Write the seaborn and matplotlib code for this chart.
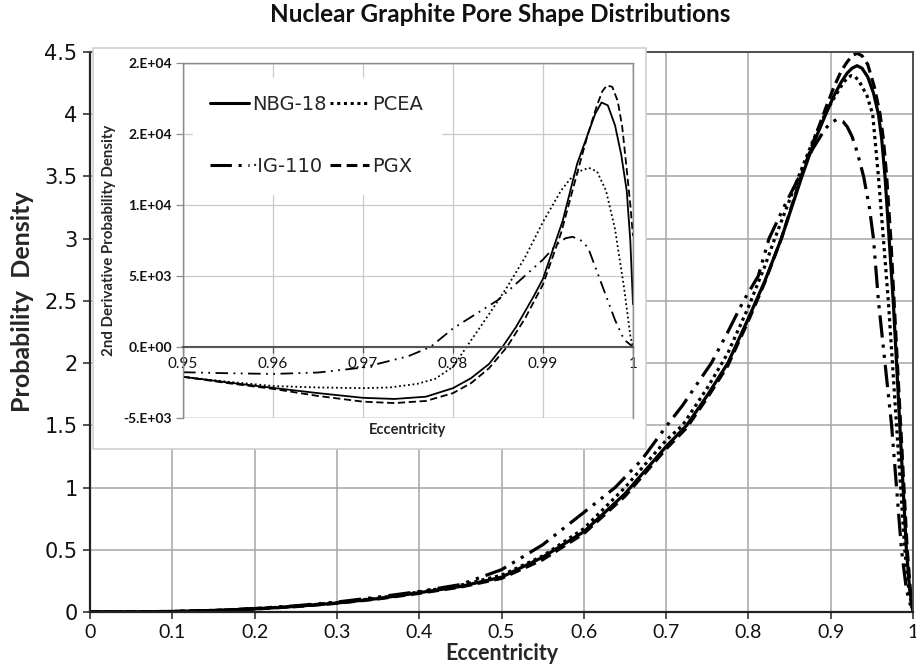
import matplotlib
matplotlib.use("Agg")
import matplotlib.pyplot as plt
from matplotlib.lines import Line2D
from matplotlib.patches import Rectangle
import seaborn as sns
import pandas as pd

TITLE = "Nuclear Graphite Pore Shape Distributions"
SERIES = ["NBG-18", "PCEA", "IG-110", "PGX"]

# ---- main chart: probability density vs eccentricity ----
nbg_x = [0, 0.1, 0.15, 0.2, 0.25, 0.3, 0.35, 0.4, 0.45, 0.5, 0.55, 0.6, 0.65, 0.7, 0.725, 0.75,
         0.775, 0.8, 0.82, 0.84, 0.865, 0.88, 0.894, 0.904, 0.913, 0.92, 0.926, 0.932, 0.938,
         0.945, 0.952, 0.958, 0.962, 0.966, 0.971, 0.976, 0.98, 0.984, 0.988, 0.992, 0.996, 1.0]
nbg_y = [0, 0.004, 0.012, 0.025, 0.045, 0.072, 0.108, 0.155, 0.205, 0.28, 0.44, 0.645, 0.95,
         1.33, 1.5, 1.74, 2.0, 2.36, 2.66, 3.0, 3.5, 3.78, 4.0, 4.15, 4.26, 4.33, 4.37, 4.39,
         4.37, 4.3, 4.17, 4.0, 3.8, 3.5, 3.0, 2.5, 2.0, 1.5, 1.0, 0.5, 0.18, 0.0]

pgx_x = [0, 0.1, 0.15, 0.2, 0.25, 0.3, 0.35, 0.4, 0.45, 0.5, 0.55, 0.6, 0.65, 0.7, 0.725, 0.75,
         0.775, 0.8, 0.82, 0.84, 0.865, 0.88, 0.894, 0.904, 0.913, 0.92, 0.926, 0.932, 0.938,
         0.945, 0.953, 0.96, 0.964, 0.968, 0.973, 0.977, 0.981, 0.985, 0.989, 0.993, 0.997, 1.0]
pgx_y = [0, 0.004, 0.012, 0.024, 0.043, 0.07, 0.105, 0.15, 0.2, 0.27, 0.42, 0.63, 0.93, 1.31,
         1.48, 1.72, 1.98, 2.34, 2.65, 3.0, 3.52, 3.8, 4.05, 4.22, 4.35, 4.42, 4.47, 4.49, 4.47,
         4.4, 4.22, 4.0, 3.8, 3.5, 3.0, 2.5, 2.0, 1.5, 1.0, 0.5, 0.16, 0.0]

pcea_x = [0, 0.1, 0.15, 0.2, 0.25, 0.3, 0.35, 0.4, 0.45, 0.5, 0.55, 0.6, 0.65, 0.7, 0.72, 0.75,
          0.775, 0.8, 0.82, 0.832, 0.861, 0.878, 0.893, 0.905, 0.915, 0.92, 0.925, 0.93, 0.935,
          0.944, 0.951, 0.958, 0.964, 0.97, 0.975, 0.98, 0.985, 0.99, 0.995, 1.0]
pcea_y = [0, 0.004, 0.012, 0.026, 0.047, 0.075, 0.112, 0.16, 0.215, 0.295, 0.45, 0.67, 1.0,
          1.38, 1.5, 1.8, 2.08, 2.45, 2.78, 3.0, 3.5, 3.78, 4.0, 4.14, 4.25, 4.29, 4.31, 4.3,
          4.26, 4.15, 4.0, 3.5, 3.0, 2.5, 2.0, 1.5, 1.0, 0.5, 0.17, 0.0]

ig_x = [0, 0.1, 0.15, 0.2, 0.25, 0.3, 0.35, 0.4, 0.45, 0.5, 0.55, 0.6, 0.638, 0.67, 0.7, 0.72,
        0.741, 0.755, 0.775, 0.794, 0.812, 0.825, 0.845, 0.862, 0.878, 0.893, 0.9, 0.908,
        0.915, 0.92, 0.926, 0.932, 0.94, 0.947, 0.952, 0.958, 0.966, 0.974, 0.98, 0.986,
        0.992, 0.999]
ig_y = [0, 0.004, 0.013, 0.028, 0.05, 0.08, 0.12, 0.165, 0.22, 0.34, 0.54, 0.8, 1.0, 1.22,
        1.49, 1.66, 1.865, 2.0, 2.25, 2.5, 2.7, 3.0, 3.28, 3.5, 3.72, 3.88, 3.93, 3.96, 3.94,
        3.9, 3.82, 3.7, 3.5, 3.25, 3.0, 2.5, 2.0, 1.5, 1.0, 0.5, 0.18, 0.0]

# ---- inset: 2nd derivative probability density ----
nbg_d2_x = [0.95, 0.955, 0.96, 0.965, 0.97, 0.9735, 0.977, 0.98, 0.982, 0.984, 0.9855, 0.987,
            0.989, 0.99, 0.9922, 0.9938, 0.995, 0.9958, 0.9965, 0.9972, 0.998, 0.9987,
            0.9993, 0.9997, 1.0]
nbg_d2_y = [-2100, -2500, -2880, -3250, -3580, -3660, -3500, -2900, -2200, -1200, 0, 1400,
            3600, 4800, 8900, 12900, 15000, 16400, 17200, 17000, 15600, 13500, 11000, 7500,
            3000]

pgx_d2_x = [0.95, 0.955, 0.96, 0.965, 0.97, 0.9735, 0.977, 0.98, 0.982, 0.984, 0.986, 0.988,
            0.99, 0.992, 0.994, 0.995, 0.996, 0.9966, 0.9971, 0.9977, 0.9983, 0.9988, 0.9993,
            0.9997, 1.0]
pgx_d2_y = [-2100, -2550, -2950, -3450, -3850, -3950, -3800, -3250, -2550, -1500, 0, 2000,
            4400, 8000, 12700, 15000, 17000, 18000, 18400, 18300, 17300, 15500, 12500, 10000,
            7800]

pcea_d2_x = [0.95, 0.955, 0.96, 0.965, 0.97, 0.973, 0.976, 0.978, 0.98, 0.9815, 0.984, 0.986,
             0.988, 0.99, 0.992, 0.993, 0.994, 0.9951, 0.996, 0.997, 0.998, 0.999, 0.9997, 1.0]
pcea_d2_y = [-2100, -2450, -2750, -2850, -2900, -2850, -2600, -2250, -1400, 0, 2300, 4200,
             6300, 8800, 11000, 11800, 12350, 12600, 12350, 11000, 8300, 4200, 800, 0]

ig_d2_x = [0.95, 0.955, 0.96, 0.965, 0.97, 0.975, 0.9775, 0.98, 0.985, 0.99, 0.9915, 0.9925,
           0.9933, 0.9942, 0.995, 0.996, 0.997, 0.998, 0.999, 1.0]
ig_d2_y = [-1780, -1850, -1900, -1800, -1450, -660, 0, 1300, 3300, 6150, 7200, 7650, 7750,
           7500, 7000, 5300, 3600, 1900, 520, 0]

main_xticks = [0, 0.1, 0.2, 0.3, 0.4, 0.5, 0.6, 0.7, 0.8, 0.9, 1.0]
main_xticklabels = ["0", "0.1", "0.2", "0.3", "0.4", "0.5", "0.6", "0.7", "0.8", "0.9", "1"]
main_yticks = [0, 0.5, 1, 1.5, 2, 2.5, 3, 3.5, 4, 4.5]
main_yticklabels = ["0", "0.5", "1", "1.5", "2", "2.5", "3", "3.5", "4", "4.5"]
inset_xticks = [0.95, 0.96, 0.97, 0.98, 0.99, 1.0]
inset_xticklabels = ["0.95", "0.96", "0.97", "0.98", "0.99", "1"]
inset_yticks = [-5000, 0, 5000, 10000, 15000, 20000]
inset_yticklabels = ["-5.E+03", "0.E+00", "5.E+03", "1.E+04", "2.E+04", "2.E+04"]

main_data = {"NBG-18": (nbg_x, nbg_y), "PCEA": (pcea_x, pcea_y),
             "IG-110": (ig_x, ig_y), "PGX": (pgx_x, pgx_y)}
inset_data = {"NBG-18": (nbg_d2_x, nbg_d2_y), "PCEA": (pcea_d2_x, pcea_d2_y),
              "IG-110": (ig_d2_x, ig_d2_y), "PGX": (pgx_d2_x, pgx_d2_y)}

main_styles = {"NBG-18": "-", "PCEA": (0, (1, 1.2)), "IG-110": (0, (7, 2.2, 1, 2.2, 1, 2.2)),
               "PGX": (0, (3.5, 1.8))}
inset_styles = {"NBG-18": "-", "PCEA": (0, (1, 1.5)), "IG-110": (0, (7, 3, 1, 3, 1, 3)),
                "PGX": (0, (4, 2))}

sns.set_theme(style="white")
plt.rcParams["font.family"] = ["Lato", "DejaVu Sans"]

fig = plt.figure(figsize=(9.16, 6.72), dpi=100)
fig.patch.set_facecolor("white")

# main axes
ax = fig.add_axes([90 / 916, 1 - 612 / 672, 823 / 916, 560 / 672])
ax.set_facecolor("white")
for name in SERIES:
    xs, ys = main_data[name]
    df = pd.DataFrame({"x": xs, "y": ys})
    sns.lineplot(data=df, x="x", y="y", ax=ax, color="black", linestyle=main_styles[name],
                 linewidth=2.3, estimator=None, sort=False, legend=False)
ax.set_xlim(0, 1.0)
ax.set_ylim(0, 4.5)
ax.set_xticks(main_xticks)
ax.set_xticklabels(main_xticklabels, fontsize=14, fontfamily="Lato")
ax.set_yticks(main_yticks)
ax.set_yticklabels(main_yticklabels, fontsize=15, fontfamily="DejaVu Sans")
ax.grid(True, color="#a6a6a6", linewidth=1.1)
ax.set_axisbelow(True)
ax.tick_params(axis="both", direction="out", length=5, width=1.2, color="#333333",
               left=True, bottom=True, pad=4, labelcolor="#111111")
for side in ["left", "bottom"]:
    ax.spines[side].set_color("#222222")
    ax.spines[side].set_linewidth(1.6)
for side in ["top", "right"]:
    ax.spines[side].set_color("#444444")
    ax.spines[side].set_linewidth(1.3)
ax.set_xlabel("Eccentricity", fontsize=15.5, fontweight="bold", labelpad=1)
ax.set_ylabel("Probability  Density", fontsize=18, fontweight="bold")
ax.yaxis.set_label_coords(-0.068, 0.555)
fig.text(500 / 916, 1 - 15 / 672, TITLE, ha="center", va="center", fontsize=17.5,
         fontweight="bold", color="#111111")

# inset panel background
panel = Rectangle((93 / 916, 1 - 449 / 672), 553 / 916, 401 / 672, transform=fig.transFigure,
                  facecolor="white", edgecolor="#d0d0d0", linewidth=1.2, zorder=1)
fig.patches.append(panel)

# inset axes
axi = fig.add_axes([183 / 916, 1 - 418 / 672, 450 / 916, 355.3 / 672], zorder=2)
axi.set_facecolor("white")
for name in SERIES:
    xs, ys = inset_data[name]
    df = pd.DataFrame({"x": xs, "y": ys})
    sns.lineplot(data=df, x="x", y="y", ax=axi, color="black", linestyle=inset_styles[name],
                 linewidth=1.3, estimator=None, sort=False, legend=False)
axi.set_xlim(0.95, 1.0)
axi.set_ylim(-5000, 20000)
axi.set_xticks(inset_xticks)
axi.set_xticklabels(inset_xticklabels, fontsize=10, fontweight="bold")
axi.set_yticks(inset_yticks)
axi.set_yticklabels(inset_yticklabels, fontsize=10, fontweight="bold")
axi.grid(True, color="#c8c8c8", linewidth=0.9)
axi.set_axisbelow(True)
axi.spines["bottom"].set_position(("data", 0))
axi.spines["bottom"].set_color("#555555")
axi.spines["bottom"].set_linewidth(1.5)
for side in ["left", "top", "right"]:
    axi.spines[side].set_color("#8c8c8c")
    axi.spines[side].set_linewidth(1.0)
axi.add_patch(Rectangle((0, 0), 1, 1, transform=axi.transAxes, fill=False,
                        edgecolor="#8c8c8c", linewidth=1.0, zorder=0.5))
axi.tick_params(axis="y", direction="out", length=5, width=0.9, color="#8c8c8c", left=True,
                pad=3, labelcolor="#111111")
axi.tick_params(axis="x", direction="out", length=4, width=0.9, color="#555555", bottom=True,
                pad=3, labelcolor="#111111")
axi.set_xlabel("Eccentricity", fontsize=10.5, fontweight="bold")
axi.xaxis.set_label_coords(0.5, -0.015)
axi.set_ylabel("2nd Derivative Probability Density", fontsize=10.8, fontweight="bold",
               labelpad=5)

handles = [Line2D([], [], color="black", linewidth=2.2, linestyle=main_styles[n]) for n in
           ["NBG-18", "IG-110", "PCEA", "PGX"]]
leg = axi.legend(handles, ["NBG-18", "·IG-110", "PCEA", "PGX"], ncol=2, loc="upper left",
                 bbox_to_anchor=(0.0, 0.985), fontsize=14, frameon=True, fancybox=False,
                 framealpha=1, edgecolor="white", facecolor="white", handlelength=2.0,
                 handletextpad=0.15, columnspacing=0.2, labelspacing=2.2, borderpad=0.9)
for t in leg.get_texts():
    t.set_fontfamily(["DejaVu Sans"])

fig.savefig("out.png", dpi=100, facecolor="white")
